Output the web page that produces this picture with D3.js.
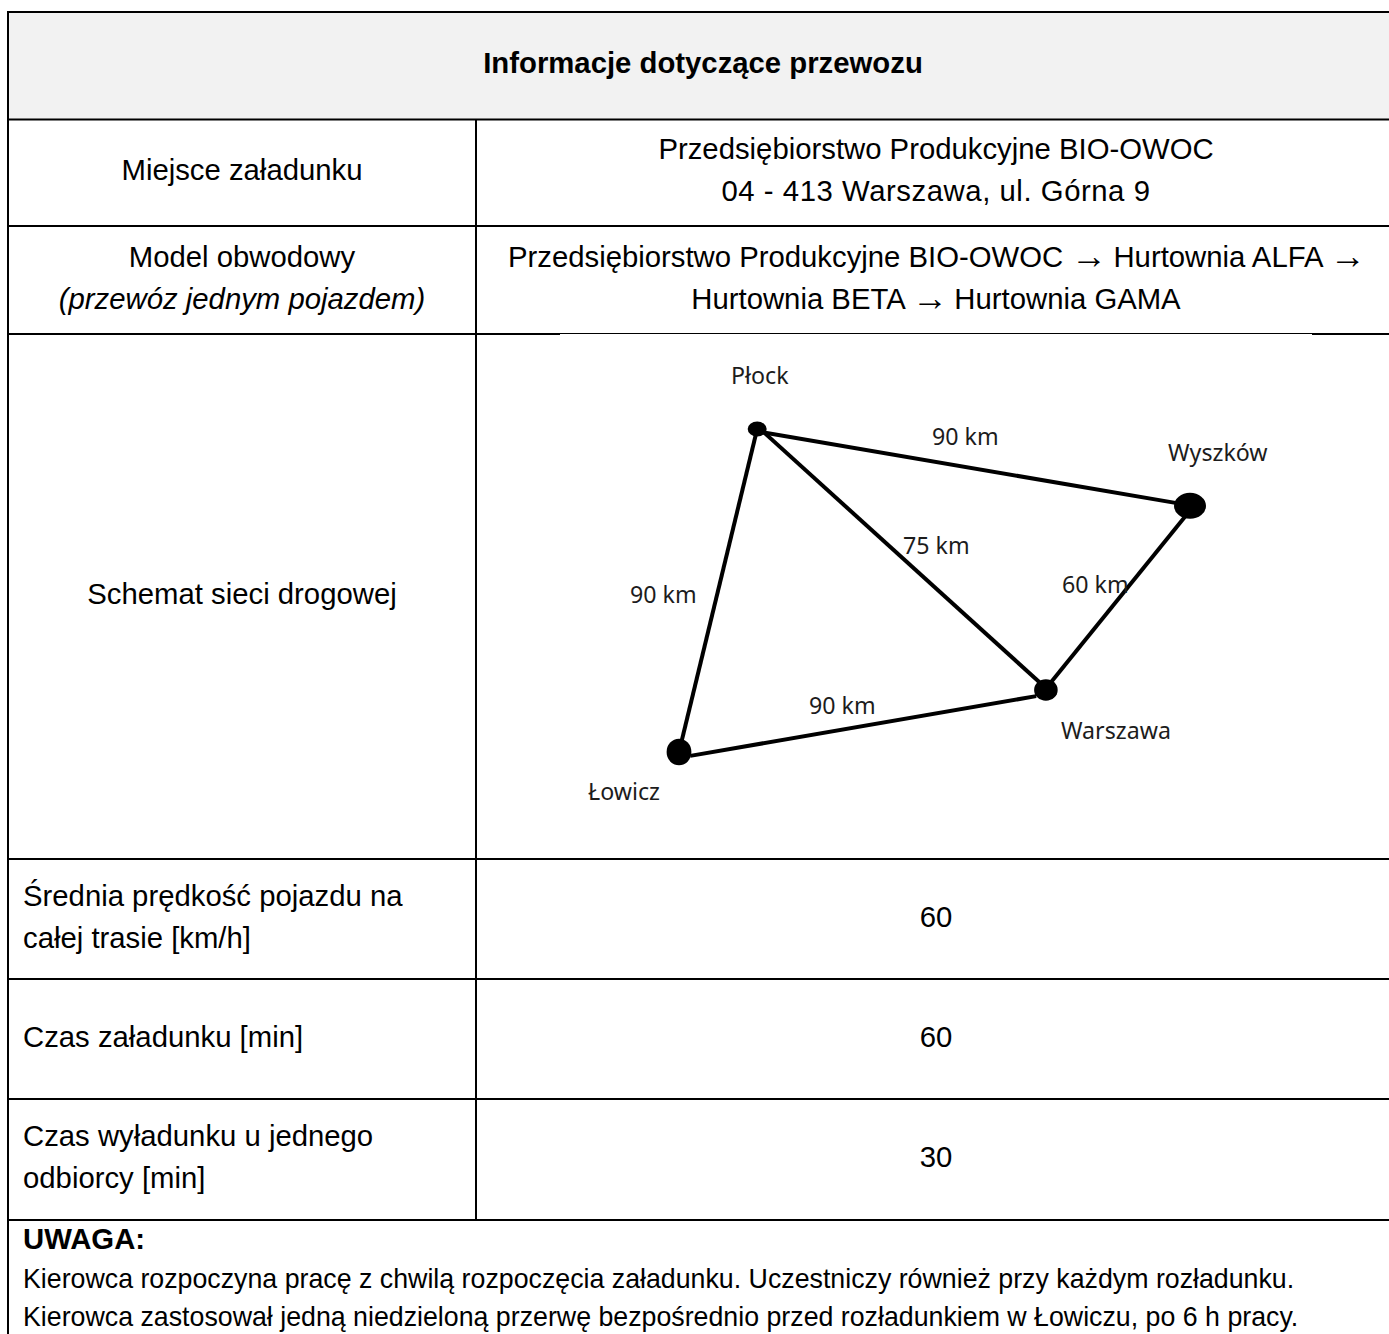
<!DOCTYPE html>
<html>
<head>
<meta charset="utf-8">
<script src="https://cdn.jsdelivr.net/npm/d3@7"></script>
<style>
    html, body { margin: 0; padding: 0; background: #fff; overflow: hidden; }
    svg { display: block; }
    text { font-family: "Liberation Sans", Arial, sans-serif; fill: #000; }
    .map text { font-family: "Noto Sans", sans-serif; fill: #1c1c1c; }
</style>
</head>
<body>
<div id="chart"></div>
<script>
    // table content
    var title = "Informacje dotyczące przewozu";
    var leftCells = [
        ["Miejsce załadunku"],
        ["Model obwodowy", "(przewóz jednym pojazdem)"],
        ["Schemat sieci drogowej"],
        ["Średnia prędkość pojazdu na", "całej trasie [km/h]"],
        ["Czas załadunku [min]"],
        ["Czas wyładunku u jednego", "odbiorcy [min]"]
    ];
    var rightCells = [
        ["Przedsiębiorstwo Produkcyjne BIO-OWOC", "04 - 413 Warszawa, ul. Górna 9"],
        ["Przedsiębiorstwo Produkcyjne BIO-OWOC → Hurtownia ALFA →", "Hurtownia BETA → Hurtownia GAMA"],
        [],
        ["60"],
        ["60"],
        ["30"]
    ];
    var noteTitle = "UWAGA:";
    var noteLines = [
        "Kierowca rozpoczyna pracę z chwilą rozpoczęcia załadunku. Uczestniczy również przy każdym rozładunku.",
        "Kierowca zastosował jedną niedzieloną przerwę bezpośrednio przed rozładunkiem w Łowiczu, po 6 h pracy."
    ];

    // road network, in schematic map units (0-100 on both axes)
    var cities = ["Płock", "Wyszków", "Warszawa", "Łowicz"];
    var cityX = [15.3, 100, 71.8, 0];
    var cityY = [100, 76.2, 19.2, 0];
    var roadKm = [90, 90, 75, 60, 90];
    // the roads were hand drawn and do not quite meet the city centres
    var roadX1 = [15.3, 16.6, 15.9, 100, 69.9];
    var roadY1 = [100, 98.9, 100, 74.8, 17.3];
    var roadX2 = [0, 98, 70.6, 72.6, 2.2];
    var roadY2 = [0, 76.9, 21.5, 21.2, -1.2];

    var svgWidth = 1389;
    var svgHeight = 1334;

    var left = 8;
    var divider = 476;
    var rowLines = [12, 119.5, 226, 334, 859, 979, 1099, 1220];

    var svg = d3.select("#chart")
        .append("svg")
        .attr("width", svgWidth)
        .attr("height", svgHeight);

    // header band
    svg.append("rect")
        .attr("x", left)
        .attr("y", rowLines[0])
        .attr("width", svgWidth - left)
        .attr("height", rowLines[1] - rowLines[0])
        .attr("fill", "#f2f2f2");

    svg.append("text")
        .attr("x", 703)
        .attr("y", 73)
        .attr("text-anchor", "middle")
        .attr("font-size", "29.3px")
        .attr("font-weight", "bold")
        .text(title);

    // grid lines
    function hLine(x1, x2, y, w) {
        svg.append("line")
            .attr("x1", x1).attr("x2", x2)
            .attr("y1", y).attr("y2", y)
            .attr("stroke", "#000")
            .attr("stroke-width", w);
    }
    function vLine(x, y1, y2, w) {
        svg.append("line")
            .attr("x1", x).attr("x2", x)
            .attr("y1", y1).attr("y2", y2)
            .attr("stroke", "#000")
            .attr("stroke-width", w);
    }

    rowLines.forEach(function (y) {
        if (y === 334) {
            hLine(left, 560, y, 2);
            hLine(560, 1312, y - 0.5, 1);
            hLine(1312, svgWidth, y, 2);
        } else {
            hLine(left - 1, svgWidth, y, 2);
        }
    });
    vLine(left, rowLines[0], svgHeight, 2);
    vLine(divider, rowLines[1], rowLines[7], 2);

    // cell text
    var lineGap = 42;
    var bodySize = "29.3px";

    function cellLines(lines, x, rowIndex, anchor) {
        var mid = (rowLines[rowIndex] + rowLines[rowIndex + 1]) / 2;
        lines.forEach(function (line, i) {
            var t = svg.append("text")
                .attr("x", x)
                .attr("y", mid + 7.5 + (i - (lines.length - 1) / 2) * lineGap)
                .attr("text-anchor", anchor)
                .attr("font-size", bodySize)
                .attr("font-style", line.charAt(0) === "(" ? "italic" : "normal");

            if (line.indexOf("04 - 413") === 0) {
                t.style("letter-spacing", "0.55px");
            }

            // the source has a longer, thinner arrow than the plain glyph
            line.split("→").forEach(function (part, j) {
                if (j > 0) {
                    t.append("tspan")
                        .attr("font-size", "36px")
                        .attr("dy", 1.5)
                        .style("letter-spacing", "-2px")
                        .text("→");
                    t.append("tspan").attr("dy", -1.5).text(part);
                } else {
                    t.append("tspan").text(part);
                }
            });
        });
    }

    leftCells.forEach(function (lines, i) {
        var wraps = i >= 3;
        cellLines(lines, wraps ? 23 : 242, i + 1, wraps ? "start" : "middle");
    });
    rightCells.forEach(function (lines, i) {
        cellLines(lines, 936, i + 1, "middle");
    });

    // note below the table
    svg.append("text")
        .attr("x", 23)
        .attr("y", 1249)
        .attr("font-size", "29.3px")
        .attr("font-weight", "bold")
        .text(noteTitle);

    svg.selectAll(".note")
        .data(noteLines)
        .enter()
        .append("text")
        .classed("note", true)
        .attr("x", 23)
        .attr("y", (d, i) => 1288 + i * 38)
        .attr("font-size", "26.75px")
        .text(d => d);

    // road network
    var xScale = d3.scaleLinear().domain([0, 100]).range([679, 1190]);
    var yScale = d3.scaleLinear().domain([0, 100]).range([752, 429]);

    var map = svg.append("g").classed("map", true);

    map.selectAll("line")
        .data(roadKm)
        .enter()
        .append("line")
        .attr("x1", (d, i) => xScale(roadX1[i]))
        .attr("y1", (d, i) => yScale(roadY1[i]))
        .attr("x2", (d, i) => xScale(roadX2[i]))
        .attr("y2", (d, i) => yScale(roadY2[i]))
        .attr("stroke", "#000")
        .attr("stroke-width", 4);

    var nodeRx = [9.5, 16, 11.8, 12.4];
    var nodeRy = [7.5, 13, 10.8, 13.3];

    map.selectAll("ellipse")
        .data(cities)
        .enter()
        .append("ellipse")
        .attr("cx", (d, i) => xScale(cityX[i]))
        .attr("cy", (d, i) => yScale(cityY[i]))
        .attr("rx", (d, i) => nodeRx[i])
        .attr("ry", (d, i) => nodeRy[i])
        .attr("fill", "#000");

    var cityLabelX = [731, 1168, 1061, 588];
    var cityLabelY = [384, 461, 739, 800];
    map.selectAll(".city")
        .data(cities)
        .enter()
        .append("text")
        .classed("city", true)
        .attr("x", (d, i) => cityLabelX[i])
        .attr("y", (d, i) => cityLabelY[i])
        .attr("font-size", "23.2px")
        .text(d => d);

    var kmLabelX = [630, 932, 903, 1062, 809];
    var kmLabelY = [603, 445, 554, 593, 714];
    map.selectAll(".km")
        .data(roadKm)
        .enter()
        .append("text")
        .classed("km", true)
        .attr("x", (d, i) => kmLabelX[i])
        .attr("y", (d, i) => kmLabelY[i])
        .attr("font-size", "23.2px")
        .text(d => d + " km");
</script>
</body>
</html>
